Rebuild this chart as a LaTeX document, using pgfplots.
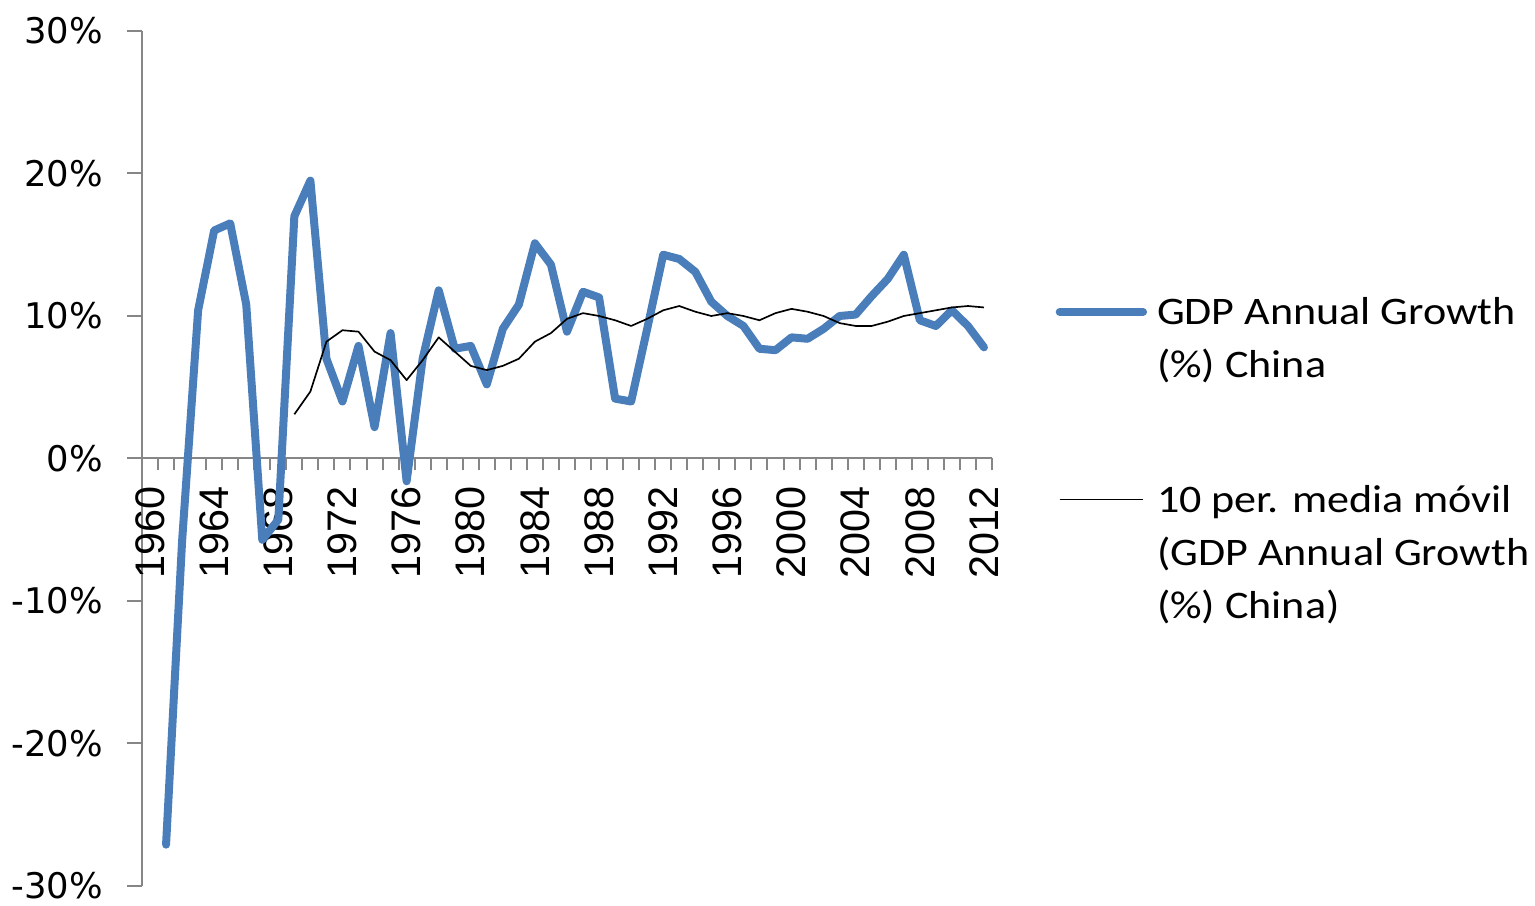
\documentclass[border=0pt]{standalone}
\usepackage{pgfplots}
\pgfplotsset{compat=1.18}
\usepackage{fontspec}
\setmainfont{Carlito}
\newfontfamily\legfont[FakeStretch=1.13]{Carlito}
\newfontfamily\dejavu{DejaVu Sans}
\newfontfamily\libsans{Liberation Sans}
\definecolor{gdpblue}{RGB}{74,126,187}
\definecolor{axgray}{RGB}{134,134,134}
\pgfplotstableread{
year val
1961 -27.1
1962 -5.8
1963 10.4
1964 16.0
1965 16.5
1966 10.8
1967 -5.7
1968 -4.3
1969 17.0
1970 19.5
1971 7.0
1972 4.0
1973 7.9
1974 2.2
1975 8.8
1976 -1.6
1977 7.0
1978 11.8
1979 7.7
1980 7.9
1981 5.2
1982 9.1
1983 10.8
1984 15.1
1985 13.6
1986 8.9
1987 11.7
1988 11.3
1989 4.2
1990 4.0
1991 9.1
1992 14.3
1993 14.0
1994 13.1
1995 11.0
1996 10.0
1997 9.3
1998 7.7
1999 7.6
2000 8.5
2001 8.4
2002 9.1
2003 10.0
2004 10.1
2005 11.4
2006 12.6
2007 14.3
2008 9.7
2009 9.3
2010 10.4
2011 9.3
2012 7.8
}\gdp
\pgfplotstableread{
year val
1969 3.1
1970 4.7
1971 8.2
1972 9.0
1973 8.9
1974 7.5
1975 6.9
1976 5.5
1977 6.9
1978 8.5
1979 7.5
1980 6.5
1981 6.2
1982 6.5
1983 7.0
1984 8.2
1985 8.8
1986 9.8
1987 10.2
1988 10.0
1989 9.7
1990 9.3
1991 9.8
1992 10.4
1993 10.7
1994 10.3
1995 10.0
1996 10.2
1997 10.0
1998 9.7
1999 10.2
2000 10.5
2001 10.3
2002 10.0
2003 9.5
2004 9.3
2005 9.3
2006 9.6
2007 10.0
2008 10.2
2009 10.4
2010 10.6
2011 10.7
2012 10.6
}\mavg
\begin{document}
\begin{tikzpicture}
\path[use as bounding box] (-42.6pt,-6pt) rectangle (417.9pt,265.8pt);
\begin{axis}[
  scale only axis,
  width=255pt, height=256.5pt,
  xmin=1959.5, xmax=2012.5,
  ymin=-30, ymax=30,
  axis x line*=middle,
  axis y line*=left,
  axis line style={draw=axgray, line width=0.6pt},
  tick align=outside,
  major tick length=4.5pt,
  minor tick length=3.6pt,
  xtick={1960,1964,1968,1972,1976,1980,1984,1988,1992,1996,2000,2004,2008,2012},
  xticklabels={1960,1964,1968,1972,1976,1980,1984,1988,1992,1996,2000,2004,2008,2012},
  minor xtick={1959.5,1960.5,...,2012.5},
  major x tick style={draw=none},
  minor x tick style={draw=axgray, line width=0.6pt},
  ytick={-30,-20,-10,0,10,20,30},
  yticklabels={-30\%,-20\%,-10\%,0\%,10\%,20\%,30\%},
  major y tick style={draw=axgray, line width=0.6pt},
  xticklabel style={font=\libsans\fontsize{12.4}{14}\selectfont, yshift=-3.6pt, rotate=90, anchor=east, inner sep=0pt},
  yticklabel style={font=\dejavu\fontsize{10.6}{12}\selectfont, anchor=east, inner sep=0pt, xshift=-7pt},
  clip=false,
  legend style={at={(1.075,0.70)}, anchor=north west, draw=none, fill=none,
    inner sep=0pt, outer sep=0pt, row sep=43.6pt, column sep=3pt,
    font=\legfont\fontsize{11.7}{15.9}\selectfont,
    nodes={inner sep=0pt, anchor=base west}},
  legend cell align=left,
  legend image code/.code={\draw[#1] (0pt,3.8pt) -- (25pt,3.8pt);},
]
\addplot[color=gdpblue, line width=2.4pt, line join=round, line cap=round] table[x=year,y=val] {\gdp};
\addlegendentry{\begin{tabular}[t]{@{}l@{}}GDP Annual Growth\\(\%) China\end{tabular}}
\addplot[color=black, line width=0.5pt, line join=round] table[x=year,y=val] {\mavg};
\addlegendentry{\begin{tabular}[t]{@{}l@{}}10 per. media móvil\\(GDP Annual Growth\\(\%) China)\end{tabular}}
\end{axis}
\end{tikzpicture}
\end{document}
